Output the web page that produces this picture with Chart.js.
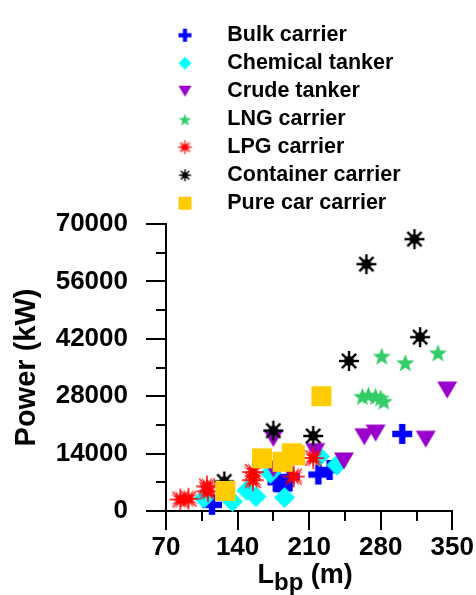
<!DOCTYPE html>
<html>
<head>
<meta charset="utf-8">
<script src="https://cdn.jsdelivr.net/npm/chart.js@4.4.1/dist/chart.umd.min.js"></script>
<style>
html,body{margin:0;padding:0;background:#fff;}
#wrap{width:476px;height:595px;}
</style>
</head>
<body>
<div id="wrap"><canvas id="c" width="476" height="595"></canvas></div>
<script>
// ---------- data ----------
const categories = ['Bulk carrier','Chemical tanker','Crude tanker','LNG carrier','LPG carrier','Container carrier','Pure car carrier'];

const bulkLbp   = [115, 179, 184, 191, 219, 230, 301];
const bulkPower = [1500, 7000, 5500, 8300, 8900, 10000, 18800];

const chemicalLbp   = [107, 135, 149, 158, 172, 186, 220, 237];
const chemicalPower = [3100, 2300, 5000, 3500, 9200, 3300, 13300, 11200];

const crudeLbp   = [175, 175, 216, 244, 264, 275, 324, 345];
const crudePower = [17700, 10200, 14500, 12200, 18100, 19000, 17500, 29500];

const lngLbp   = [262, 268, 275, 280, 283, 281, 304, 336];
const lngPower = [28000, 28300, 28000, 27600, 26800, 37800, 36200, 38600];

const lpgLbp   = [84, 92, 110, 111, 155, 155, 195, 214];
const lpgPower = [2800, 3000, 6000, 4800, 9500, 7500, 8400, 12900];

const containerLbp   = [127, 175, 214, 249, 266, 313, 318.5];
const containerPower = [7200, 19600, 18300, 36600, 60200, 66300, 42400];

const pccLbp   = [128, 164, 184, 193, 196, 222];
const pccPower = [4900, 12850, 12000, 14100, 13600, 28000];

const xTickLabels = [70, 140, 210, 280, 350];
const xMinorTicks = [105, 175, 245, 315];
const yTickLabels = [0, 14000, 28000, 42000, 56000, 70000];
const yMinorTicks = [7000, 21000, 35000, 49000, 63000];

// ---------- styling ----------
const FONT = "'Liberation Sans', Arial, Helvetica, sans-serif";
const colors = ['#0000FF', '#00FFFF', '#9900CC', '#33CC66', '#FF0000', '#000000', '#FFCC00'];
const kinds  = ['plus', 'diamond', 'tri', 'star', 'burst', 'asterisk', 'square'];

function markerCanvas(kind, color, size, boxW, cxPos) {
  const W = boxW || Math.ceil(size + 4);
  const H = Math.ceil(size + 4);
  const c = document.createElement('canvas');
  c.width = W; c.height = H;
  const g = c.getContext('2d');
  const cx = (cxPos != null) ? cxPos : W / 2, cy = H / 2, r = size / 2;
  g.fillStyle = color; g.strokeStyle = color;
  switch (kind) {
    case 'plus': {
      const t = size * 0.32;
      g.fillRect(cx - r, cy - t / 2, size, t);
      g.fillRect(cx - t / 2, cy - r, t, size);
      break;
    }
    case 'diamond':
      g.beginPath(); g.moveTo(cx, cy - r); g.lineTo(cx + r, cy); g.lineTo(cx, cy + r); g.lineTo(cx - r, cy); g.closePath(); g.fill();
      break;
    case 'tri': {
      const h = size * 0.85;
      g.beginPath(); g.moveTo(cx - r, cy - h / 2); g.lineTo(cx + r, cy - h / 2); g.lineTo(cx, cy + h / 2); g.closePath(); g.fill();
      break;
    }
    case 'star': {
      g.beginPath();
      for (let i = 0; i < 10; i++) {
        const a = -Math.PI / 2 + i * Math.PI / 5;
        const rr = (i % 2 === 0) ? r : r * 0.42;
        const px = cx + rr * Math.cos(a), py = cy + 1 + rr * Math.sin(a);
        if (i === 0) g.moveTo(px, py); else g.lineTo(px, py);
      }
      g.closePath(); g.fill();
      break;
    }
    case 'burst': {
      g.beginPath();
      const n = 12;
      for (let i = 0; i < 2 * n; i++) {
        const a = -Math.PI / 2 + i * Math.PI / n;
        const rr = (i % 2 === 0) ? r : r * 0.36;
        const px = cx + rr * Math.cos(a), py = cy + rr * Math.sin(a);
        if (i === 0) g.moveTo(px, py); else g.lineTo(px, py);
      }
      g.closePath(); g.fill();
      g.lineWidth = Math.max(1, size * 0.06);
      for (let i = 0; i < 4; i++) {
        const a = i * Math.PI / 4;
        g.beginPath();
        g.moveTo(cx - r * Math.cos(a), cy - r * Math.sin(a));
        g.lineTo(cx + r * Math.cos(a), cy + r * Math.sin(a));
        g.stroke();
      }
      break;
    }
    case 'asterisk': {
      g.lineWidth = Math.max(1.5, size * 0.12);
      for (let i = 0; i < 4; i++) {
        const a = i * Math.PI / 4;
        g.beginPath();
        g.moveTo(cx - r * Math.cos(a), cy - r * Math.sin(a));
        g.lineTo(cx + r * Math.cos(a), cy + r * Math.sin(a));
        g.stroke();
      }
      g.beginPath(); g.arc(cx, cy, r * 0.5, 0, Math.PI * 2); g.fill();
      break;
    }
    case 'square':
      g.fillRect(cx - r, cy - r, size, size);
      break;
  }
  return c;
}

const plotSizes = [20, 21, 20, 19, 22, 20, 20];
const legendSizes = [13, 13, 13, 13, 14, 12, 13];
const LEGEND_BOX_W = 44;
const plotIcons = kinds.map((k, i) => markerCanvas(k, colors[i], plotSizes[i]));
const legendIcons = kinds.map((k, i) => markerCanvas(k, colors[i], legendSizes[i], LEGEND_BOX_W, LEGEND_BOX_W / 2 - 9.5));

const xs = [bulkLbp, chemicalLbp, crudeLbp, lngLbp, lpgLbp, containerLbp, pccLbp];
const ys = [bulkPower, chemicalPower, crudePower, lngPower, lpgPower, containerPower, pccPower];

const datasets = categories.map((name, i) => ({
  label: name,
  data: xs[i].map((v, j) => ({x: v, y: ys[i][j]})),
  pointStyle: plotIcons[i],
  backgroundColor: colors[i],
  borderColor: colors[i],
  pointRadius: 10,
  clip: false,
  order: categories.length - i
}));

const axisExtras = {
  id: 'axisExtras',
  beforeDatasetsDraw(chart) {
    const {ctx, chartArea} = chart;
    const x = chart.scales.x, y = chart.scales.y;
    ctx.save();
    ctx.strokeStyle = '#000'; ctx.lineWidth = 2;
    xMinorTicks.forEach(v => {
      const px = Math.round(x.getPixelForValue(v));
      ctx.beginPath(); ctx.moveTo(px, chartArea.bottom); ctx.lineTo(px, chartArea.bottom + 10); ctx.stroke();
    });
    yMinorTicks.forEach(v => {
      const py = Math.round(y.getPixelForValue(v));
      ctx.beginPath(); ctx.moveTo(chartArea.left, py); ctx.lineTo(chartArea.left - 10, py); ctx.stroke();
    });
    ctx.restore();
  },
  afterDraw(chart) {
    const {ctx, chartArea} = chart;
    ctx.save();
    ctx.fillStyle = '#000';
    ctx.textBaseline = 'alphabetic';
    ctx.textAlign = 'left';
    const mainFont = `bold 27px ${FONT}`, subFont = `bold 24px ${FONT}`;
    ctx.font = mainFont;
    const w1 = ctx.measureText('L').width, w3 = ctx.measureText(' (m)').width;
    ctx.font = subFont;
    const w2 = ctx.measureText('bp').width;
    const total = w1 + w2 + w3;
    let sx = (chartArea.left + chartArea.right) / 2 - total / 2 - 4;
    const base = chartArea.bottom + 72;
    ctx.font = mainFont; ctx.fillText('L', sx, base); sx += w1;
    ctx.font = subFont; ctx.fillText('bp', sx, base + 7); sx += w2;
    ctx.font = mainFont; ctx.fillText(' (m)', sx, base);
    ctx.restore();
  }
};

const tickFont = {family: FONT, weight: 'bold', size: 26};

new Chart(document.getElementById('c'), {
  type: 'scatter',
  data: {datasets},
  options: {
    responsive: false,
    animation: false,
    events: [],
    layout: {padding: {top: 6, right: 23, bottom: 0, left: 0}},
    plugins: {
      tooltip: {enabled: false},
      legend: {
        display: true,
        position: 'top',
        align: 'start',
        fullSize: false,
        labels: {
          usePointStyle: true,
          pointStyleWidth: LEGEND_BOX_W,
          padding: 6.5,
          color: '#000',
          font: {family: FONT, weight: 'bold', size: 21.5},
          sort: (a, b) => a.datasetIndex - b.datasetIndex,
          generateLabels(chart) {
            const items = Chart.defaults.plugins.legend.labels.generateLabels(chart);
            items.forEach(it => { it.pointStyle = legendIcons[it.datasetIndex]; });
            return items;
          }
        }
      }
    },
    scales: {
      x: {
        type: 'linear',
        position: 'bottom',
        min: 70, max: 350,
        afterFit(s) { s.height = 84; },
        ticks: {
          stepSize: 35, autoSkip: false, maxRotation: 0, padding: 2,
          color: '#000', font: tickFont,
          callback: v => xTickLabels.includes(v) ? String(v) : ''
        },
        grid: {
          drawOnChartArea: false, drawTicks: true, tickLength: 19,
          color: '#000', lineWidth: 2, tickWidth: 2,
          tickColor: c => (c.tick && xTickLabels.includes(c.tick.value)) ? '#000' : 'rgba(0,0,0,0)'
        },
        border: {display: true, color: '#000', width: 2},
        title: {display: false}
      },
      y: {
        type: 'linear',
        position: 'left',
        min: 0, max: 70000,
        afterFit(s) { s.width = 166; s.paddingTop = 224; },
        ticks: {
          stepSize: 7000, autoSkip: false, padding: 18,
          color: '#000', font: tickFont,
          callback: v => yTickLabels.includes(v) ? String(v) : ''
        },
        grid: {
          drawOnChartArea: false, drawTicks: true, tickLength: 20,
          color: '#000', lineWidth: 2, tickWidth: 2,
          tickColor: c => (c.tick && yTickLabels.includes(c.tick.value)) ? '#000' : 'rgba(0,0,0,0)'
        },
        border: {display: true, color: '#000', width: 2},
        title: {
          display: true, text: 'Power (kW)', color: '#000',
          font: {family: FONT, weight: 'bold', size: 29},
          padding: {top: 10, bottom: 0}
        }
      }
    }
  },
  plugins: [axisExtras]
});
</script>
</body>
</html>
